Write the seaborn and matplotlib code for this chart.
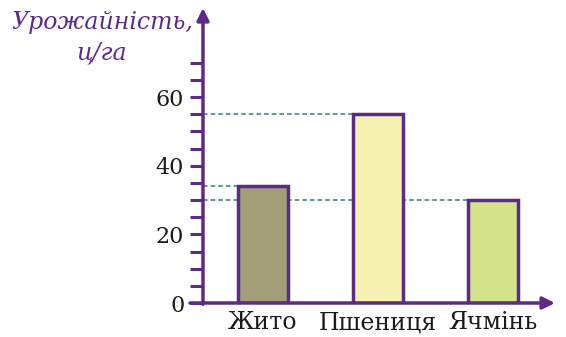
import matplotlib
matplotlib.use("Agg")
import matplotlib.pyplot as plt
import seaborn as sns
import pandas as pd

crops = ["Жито", "Пшениця", "Ячмінь"]
yields = [34, 55, 30]
bar_colors = ["#a09f78", "#f6f1b0", "#d4e289"]
yticks = list(range(0, 75, 5))
ylabels = ["0", "", "", "", "20", "", "", "", "40", "", "", "", "60", "", ""]

purple = "#5c2b88"
teal = "#2b7f7b"

df = pd.DataFrame({"crop": crops, "y": yields})

sns.set_theme(style="white")
plt.rcParams["font.family"] = ["DejaVu Serif"]

fig = plt.figure(figsize=(5.66, 3.37), dpi=100)
W, H = 566, 337
ax = fig.add_axes([203 / W, (337 - 303) / H, (555 - 203) / W, (303 - 8) / H])

sns.barplot(data=df, x="crop", y="y", hue="crop", palette=bar_colors,
            saturation=1, width=0.44, edgecolor=purple, linewidth=2.5,
            legend=False, ax=ax, zorder=3)

x0 = -0.52
ax.set_xlim(x0, 2.54)
ax.set_ylim(0, 86)

# dashed guide lines from the axis to each bar
for i, v in enumerate(yields):
    ax.hlines(v, x0, i - 0.22, colors=teal, linestyles=(0, (3, 2)), lw=1.1, zorder=2)

for s in ax.spines.values():
    s.set_visible(False)

ax.set_yticks(yticks)
ax.set_yticklabels(ylabels)
ax.tick_params(axis="y", direction="out", length=9.5, width=2.2, color=purple,
               pad=4, labelsize=16, labelcolor="#1a1a1a", left=True)
ax.tick_params(axis="x", length=0, pad=6, labelsize=17, labelcolor="#1a1a1a")
ax.set_xlabel("")
ax.set_ylabel("")

# axes with arrows
ax.annotate("", xy=(0, 1), xytext=(0, -0.004), xycoords="axes fraction",
            arrowprops=dict(arrowstyle="-|>", color=purple, lw=2.5, mutation_scale=18,
                            shrinkA=0, shrinkB=0))
ax.annotate("", xy=(1, 0), xytext=(-13 / 352, 0), xycoords="axes fraction",
            arrowprops=dict(arrowstyle="-|>", color=purple, lw=2.5, mutation_scale=18,
                            shrinkA=0, shrinkB=0))

fig.text(102 / W, 1 - 38 / H, "Урожайність,\nц/га", ha="center", va="center",
         color=purple, fontsize=17, style="italic", linespacing=1.4)

fig.savefig("out.png", dpi=100)
